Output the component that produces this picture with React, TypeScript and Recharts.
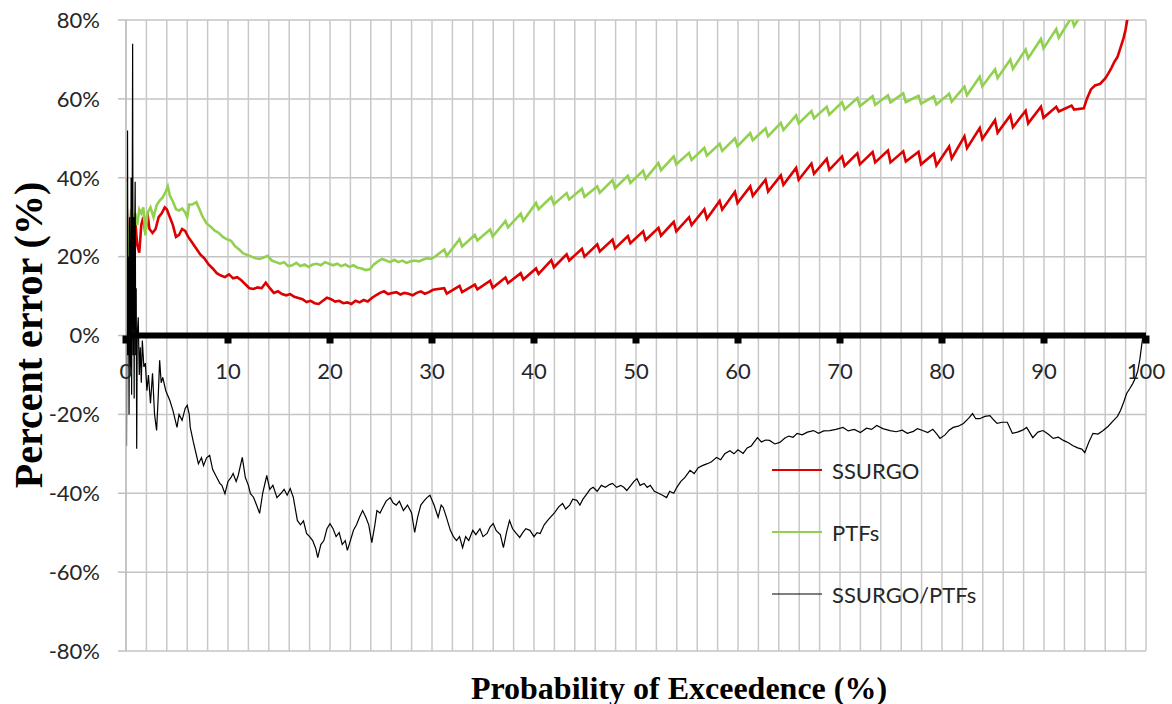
import React from 'react';
import { LineChart, Line, XAxis, YAxis, CartesianGrid, ReferenceLine, ReferenceDot } from 'recharts';

// x: probability of exceedence (%), y: percent error (%)
const ssurgo: [number, number][] = [
  [0,40],[0.1,30],[0.2,18],[0.3,24],[0.45,20],[0.6,28],[0.8,25],[0.9,29],[1.1,23],[1.3,21],[1.5,28],[1.7,30],[1.9,26],[2.1,31],[2.3,27],[2.6,26],[2.9,27],[3.2,30],[3.5,31],[3.8,32.5],[4.0,32],[4.3,30],[4.6,28],[4.9,25],[5.2,25.5],[5.5,27],[5.8,26.5],[6.1,25],[6.5,23.5],[6.9,22],[7.3,20.5],[7.7,19.5],[8.1,18],[8.5,17],[8.9,15.8],[9.3,15.2],[9.7,14.8],[10.1,15.5],[10.5,14.5],[10.9,14.8],[11.3,14],[11.7,13],[12.1,12],[12.5,11.8],[12.9,12.2],[13.3,12],[13.7,13.4],[14.1,12],[14.5,10.8],[14.9,11.2],[15.3,10.5],[15.7,10.2],[16.1,10.5],[16.5,9.8],[16.9,9.5],[17.3,9.2],[17.7,8.5],[18.1,8.8],[18.5,8.2],[18.9,8.0],[19.3,8.8],[19.7,9.6],[20.1,9.2],[20.5,8.6],[20.9,8.8],[21.3,8.2],[21.7,8.4],[22.1,8.0],[22.5,8.8],[22.9,8.4],[23.3,9.0],[23.7,8.6],[24.1,9.5],[24.5,10.2],[24.9,10.8],[25.3,11.2],[25.7,10.5],[26.1,10.8],[26.5,11.0],[26.9,10.4],[27.3,10.8],[27.7,10.6],[28.1,10.2],[28.5,10.8],[28.9,11.2],[29.3,10.6],[29.7,11.0],[30.1,11.6],
  [31.2,12.0],[31.45,10.6],[32.7,12.6],[32.95,11.0],[34.2,12.9],[34.45,11.7],[35.7,13.9],[35.95,12.1],[37.2,14.7],[37.45,13.3],[38.7,15.8],[38.95,14.2],[40.2,17.0],[40.45,15.6],[41.7,19.1],[41.95,17.3],[43.2,20.6],[43.45,19.0],[44.7,22.0],[44.95,20.0],[46.2,23.1],[46.45,21.3],[47.7,24.3],[47.95,22.1],[49.2,25.2],[49.45,23.4],[50.7,26.4],[50.95,24.2],[52.2,27.3],[52.45,25.3],[53.7,28.8],[53.95,26.4],[55.2,30.0],[55.45,28.0],[56.7,32.0],[56.95,29.6],[58.2,34.1],[58.45,31.9],[59.7,36.4],[59.95,33.6],[61.2,37.8],[61.45,35.4],[62.7,39.5],[62.95,36.5],[64.2,40.6],[64.45,38.2],[65.7,42.5],[65.95,39.5],[67.2,43.6],[67.45,41.0],[68.7,44.8],[68.95,42.0],[70.2,45.4],[70.45,43.0],[71.7,46.2],[71.95,43.4],[73.2,46.5],[73.45,43.9],[74.7,46.9],[74.95,43.9],[76.2,46.7],[76.45,44.1],[77.7,46.6],[77.95,43.4],[79.2,46.1],[79.45,43.1],[80.7,47.9],[80.95,44.9],[82.2,50.5],[82.45,47.5],[83.7,52.6],[83.95,49.8],[85.2,54.6],[85.45,51.4],[86.7,55.8],[86.95,52.8],[88.2,57.0],[88.45,53.8],[89.7,58.0],[89.95,55.2],[91.2,58.0],[91.45,56.8],[92.7,58.3],[92.95,57.3],[93.9,57.6],[94.2,60.0],[94.6,62.4],[95,63.4],[95.5,63.8],[96,65.2],[96.3,66.4],[96.6,67.8],[96.9,69.4],[97.2,70.6],[97.5,73.0],[97.8,75.4],[98,77.6],[98.2,80.6],[98.5,84]
];

const ptfs: [number, number][] = [
  [0,39],[0.1,20],[0.2,8],[0.3,25],[0.5,32],[0.7,27],[0.9,31],[1.1,28],[1.3,32],[1.5,31],[1.7,32.5],[1.9,25.4],[2.1,31],[2.4,32.5],[2.7,30],[3.0,33],[3.3,34.2],[3.6,35],[3.9,36.5],[4.1,37.8],[4.3,35.5],[4.6,34],[4.9,32],[5.2,31.7],[5.5,32.2],[5.8,31.2],[6.0,30.0],[6.2,33.2],[6.5,33.2],[6.9,33.8],[7.2,32.0],[7.5,30.2],[7.9,28.4],[8.3,27.6],[8.7,26.6],[9.1,26.0],[9.5,25.0],[9.9,24.4],[10.3,24.0],[10.7,22.6],[11.1,21.8],[11.5,20.8],[11.9,20.4],[12.3,20.0],[12.7,19.6],[13.1,19.4],[13.5,19.8],[13.9,20.2],[14.3,19.0],[14.7,18.6],[15.1,18.2],[15.5,18.6],[15.9,17.6],[16.3,17.8],[16.7,18.4],[17.1,17.6],[17.5,18.0],[17.9,17.4],[18.3,18.0],[18.7,18.2],[19.1,17.8],[19.5,18.6],[19.9,18.2],[20.3,17.8],[20.7,18.2],[21.1,17.6],[21.5,18.0],[21.9,17.4],[22.3,17.8],[22.7,17.2],[23.1,17.0],[23.5,16.6],[23.9,16.8],[24.3,18.0],[24.7,18.8],[25.1,19.4],[25.5,19.0],[25.9,18.6],[26.3,19.2],[26.7,18.6],[27.1,19.0],[27.5,18.4],[27.9,18.8],[28.3,19.0],[28.7,18.8],[29.1,19.2],[29.5,19.6],[29.9,19.4],[30.3,20.0],
  [31.2,21.8],[31.45,20.2],[32.7,24.4],[32.95,22.6],[34.2,25.5],[34.45,24.1],[35.7,26.9],[35.95,25.1],[37.2,29.0],[37.45,27.4],[38.7,30.9],[38.95,29.1],[40.2,33.6],[40.45,32.0],[41.7,35.1],[41.95,33.3],[43.2,36.1],[43.45,34.5],[44.7,37.2],[44.95,35.2],[46.2,37.8],[46.45,36.2],[47.7,39.4],[47.95,37.4],[49.2,40.5],[49.45,38.7],[50.7,41.8],[50.95,39.8],[52.2,43.7],[52.45,41.9],[53.7,45.4],[53.95,43.4],[55.2,46.3],[55.45,44.5],[56.7,47.6],[56.95,45.6],[58.2,48.6],[58.45,46.8],[59.7,50.0],[59.95,48.0],[61.2,51.3],[61.45,49.5],[62.7,52.5],[62.95,50.5],[64.2,53.9],[64.45,52.1],[65.7,55.8],[65.95,53.8],[67.2,56.9],[67.45,55.1],[68.7,58.0],[68.95,56.0],[70.2,59.1],[70.45,57.3],[71.7,60.2],[71.95,58.2],[73.2,60.7],[73.45,58.5],[74.7,60.9],[74.95,59.1],[76.2,61.4],[76.45,59.2],[77.7,60.8],[77.95,58.8],[79.2,60.6],[79.45,58.6],[80.7,61.3],[80.95,59.3],[82.2,63.1],[82.45,60.9],[83.7,65.6],[83.95,63.2],[85.2,67.5],[85.45,65.3],[86.7,70.0],[86.95,67.6],[88.2,72.5],[88.45,70.3],[89.7,75.2],[89.95,72.8],[91.2,77.7],[91.45,75.5],[92.7,80.7],[92.95,78.5],[94.2,83.5],[95,85]
];

const ratio: [number, number][] = [
  [0,0],[0.05,-28],[0.1,10],[0.15,52],[0.2,-5],[0.25,20],[0.3,-20],[0.35,30],[0.4,5],[0.45,-10],[0.5,40],[0.55,-15],[0.6,20],[0.65,74],[0.7,-5],[0.75,30],[0.8,-16],[0.85,25],[0.9,39],[0.95,-5],[1.0,12],[1.05,-28.7],[1.1,0],[1.2,4.6],[1.3,-10],[1.4,-3],[1.5,-12],[1.6,-1.3],[1.75,-8],[1.9,-7],[2.05,-14],[2.2,-10],[2.4,-17.2],[2.6,-9.6],[2.8,-20],[3.0,-24.1],[3.15,-16],[3.3,-6.3],[3.45,-12],[3.6,-10.6],[3.9,-14],[4.3,-16.5],[4.6,-19],[5.0,-23.3],[5.2,-20],[5.5,-21.5],[5.8,-18.5],[6.0,-17.7],[6.2,-20],[6.3,-23.3],[6.6,-27],[7.1,-32.5],[7.4,-31],[7.6,-33],[7.9,-31],[8.2,-30.4],[8.5,-34],[8.9,-36],[9.2,-37.5],[9.4,-38],[9.7,-40.1],[10.0,-37],[10.3,-36],[10.5,-35],[10.8,-37],[11.0,-35.5],[11.4,-30.9],[11.7,-36],[12.0,-38],[12.2,-40.1],[12.5,-41],[12.8,-43],[13.1,-45.1],[13.4,-40],[13.8,-35.5],[14.1,-39],[14.4,-38],[14.8,-41.1],[15.2,-40],[15.5,-39],[15.8,-40.5],[16.1,-38.8],[16.4,-41],[16.8,-46.9],[17.1,-48],[17.4,-47],[17.7,-50.2],[18.0,-51],[18.3,-52],[18.6,-54],[18.8,-56.3],[19.1,-53],[19.4,-52],[19.7,-49],[20.0,-47.7],[20.3,-49],[20.6,-51],[20.9,-50],[21.2,-53],[21.5,-52],[21.7,-54.5],[22.0,-52],[22.3,-49.4],[22.6,-48],[22.9,-46],[23.2,-44.4],[23.5,-46],[23.8,-48],[24.1,-52.5],[24.4,-48],[24.6,-44.4],[24.9,-45],[25.2,-43.5],[25.5,-42],[25.9,-41.1],[26.2,-42.5],[26.5,-43],[26.8,-42],[27.2,-44.4],[27.6,-43],[28.0,-45],[28.3,-49.9],[28.6,-46],[28.9,-43],[29.2,-42],[29.5,-41.1],[29.8,-40.5],[30.2,-43],[30.6,-46.1],[30.9,-43],[31.1,-43.6],[31.4,-46],[31.8,-49.4],[32.1,-51],[32.4,-52],[32.7,-51],[33.0,-53.8],[33.3,-51],[33.6,-52],[34.0,-49.4],[34.3,-50.5],[34.7,-49],[35.0,-51],[35.4,-50.2],[35.7,-48.5],[36.0,-47.7],[36.3,-49.5],[36.7,-50.5],[37.0,-53.8],[37.3,-50],[37.6,-46.9],[37.9,-49],[38.2,-50],[38.6,-51.2],[38.9,-50],[39.2,-49],[39.6,-49.4],[40.0,-51],[40.3,-50],[40.6,-50.2],[41.0,-48],[41.3,-47],[41.6,-46.1],[42.0,-45],[42.4,-43.5],[42.8,-42.6],[43.1,-44],[43.5,-43],[43.8,-41.5],[44.2,-41.8],[44.5,-43],[44.8,-41.5],[45.2,-40.1],[45.5,-39],[45.8,-38.5],[46.2,-39.5],[46.6,-38],[47.0,-38.5],[47.4,-37.8],[47.7,-37.5],[48.1,-38.5],[48.5,-38],[48.8,-38.5],[49.1,-39.3],[49.5,-38],[49.8,-37],[50.1,-36.3],[50.4,-38],[50.8,-37.5],[51.1,-38.5],[51.4,-38],[51.8,-39.5],[52.2,-40],[52.6,-40.5],[53.0,-41.1],[53.3,-39.5],[53.7,-40],[54.0,-38.5],[54.4,-37],[54.8,-36],[55.3,-34.2],[55.7,-35],[56.1,-33.5],[56.5,-33],[57.0,-32.5],[57.4,-32],[57.9,-30.9],[58.3,-31.5],[58.7,-30],[59.2,-29.2],[59.6,-30],[60.0,-29],[60.5,-29.9],[60.9,-28.5],[61.3,-28],[61.9,-25.9],[62.3,-27],[62.7,-26.5],[63.1,-26.6],[63.6,-27.5],[64.1,-27.1],[64.6,-26],[65.0,-25.5],[65.4,-25.8],[65.8,-24.8],[66.3,-25.2],[66.8,-24.5],[67.4,-24.1],[67.9,-24.8],[68.4,-24.2],[69.0,-24.1],[69.6,-23.8],[70.3,-23.3],[70.8,-24.2],[71.4,-23.8],[72.0,-24.6],[72.6,-23.5],[73.1,-23.8],[73.6,-22.8],[74.2,-23.6],[74.9,-24.1],[75.5,-24.4],[76.1,-24.0],[76.6,-24.8],[77.2,-24.3],[77.6,-23.6],[78.1,-24.1],[78.6,-24.6],[79.1,-23.8],[79.5,-25.0],[79.8,-26.1],[80.3,-25.2],[80.7,-24.0],[81.1,-23.3],[81.6,-23.0],[82.1,-22.3],[82.6,-21.0],[83.0,-19.8],[83.3,-21.1],[83.7,-21.1],[84.2,-20.5],[84.7,-20.3],[85.1,-21.5],[85.4,-22.3],[85.9,-22.0],[86.4,-22.0],[86.9,-24.8],[87.4,-24.5],[87.9,-24.0],[88.3,-23.3],[88.9,-25.9],[89.4,-24.5],[89.9,-24.1],[90.4,-25.0],[90.9,-26.1],[91.4,-25.8],[91.9,-26.6],[92.4,-27.2],[92.8,-27.9],[93.3,-28.5],[93.7,-28.8],[94.0,-29.7],[94.4,-27.0],[94.8,-24.8],[95.3,-25.0],[95.8,-24.1],[96.3,-23.0],[96.8,-21.6],[97.2,-20.5],[97.5,-19.0],[97.8,-17.0],[98.1,-14.7],[98.4,-13.5],[98.7,-12.2],[99.0,-10.5],[99.2,-8.9],[99.4,-6.0],[99.6,-2.0],[99.7,0.0]
];

const gridTicks = [0,2,4,6,8,10,12,14,16,18,20,22,24,26,28,30,32,34,36,38,40,42,44,46,48,50,52,54,56,58,60,62,64,66,68,70,72,74,76,78,80,82,84,86,88,90,92,94,96,98,100];
const labelTicks = [0,10,20,30,40,50,60,70,80,90,100];
const yTicks = [-80,-60,-40,-20,0,20,40,60,80];

const seriesList = [
  { name: 'SSURGO', points: ssurgo, color: '#DD0000', width: 2.6 },
  { name: 'PTFs', points: ptfs, color: '#92D050', width: 2.6 },
  { name: 'SSURGO/PTFs', points: ratio, color: '#000000', width: 1.2 },
];

const FONT = 'Lato, "Open Sans", sans-serif';
const SERIF = '"Liberation Serif", "Times New Roman", serif';

const toData = (pts: [number, number][]) => pts.map(([p, v]) => ({ p, v }));

export default function App() {
  return (
    <div style={{ position: 'absolute', left: 0, top: 0, width: 1172, height: 704, background: '#fff' }}>
      <LineChart width={1172} height={704} margin={{ top: 20, right: 26, bottom: 53, left: 0 }}>
        <CartesianGrid stroke="#c4c4c4" strokeWidth={1.5} vertical={false} />
        <XAxis dataKey="p" type="number" domain={[0, 100]} ticks={gridTicks} allowDataOverflow hide />
        <YAxis
          type="number"
          domain={[-80, 80]}
          ticks={yTicks}
          allowDataOverflow
          width={126}
          tickSize={8}
          tickMargin={18}
          tickLine={{ stroke: '#bfbfbf', strokeWidth: 1.5 }}
          axisLine={{ stroke: '#bfbfbf', strokeWidth: 1.5 }}
          tickFormatter={(v: number) => `${v}%`}
          tick={{ fontFamily: FONT, fontSize: 22, fill: '#262626' }}
        />
        {gridTicks.map((t) => (
          <ReferenceLine key={`g${t}`} x={t} stroke="#c8c8c8" strokeWidth={1.5} />
        ))}
        <ReferenceLine y={0} stroke="#000" strokeWidth={6} />
        {labelTicks.map((t) => (
          <ReferenceDot
            key={t}
            x={t}
            y={0}
            r={0}
            ifOverflow="visible"
            shape={(p: any) => (
              <g>
                <rect x={p.cx - 3.5} y={p.cy} width={7} height={8} fill="#000" />
                <text x={p.cx} y={p.cy + 43} textAnchor="middle" fontFamily={FONT} fontSize={22} fill="#262626">
                  {t}
                </text>
              </g>
            )}
          />
        ))}
        {seriesList.map((s) => (
          <Line
            key={s.name}
            data={toData(s.points)}
            dataKey="v"
            name={s.name}
            type="linear"
            stroke={s.color}
            strokeWidth={s.width}
            dot={false}
            activeDot={false}
            isAnimationActive={false}
          />
        ))}
      </LineChart>
      <div
        style={{
          position: 'absolute',
          left: 679,
          top: 688,
          transform: 'translate(-50%, -50%)',
          whiteSpace: 'nowrap',
          fontFamily: SERIF,
          fontWeight: 'bold',
          fontSize: 32,
          color: '#000',
          lineHeight: 1,
        }}
      >
        Probability of Exceedence (%)
      </div>
      <div
        style={{
          position: 'absolute',
          left: 29,
          top: 335,
          transform: 'translate(-50%, -50%) rotate(-90deg)',
          whiteSpace: 'nowrap',
          fontFamily: SERIF,
          fontWeight: 'bold',
          fontSize: 40,
          color: '#000',
          lineHeight: 1,
        }}
      >
        Percent error (%)
      </div>
      <div style={{ position: 'absolute', left: 772, top: 455, fontFamily: FONT, fontSize: 22, color: '#262626' }}>
        {seriesList.map((s) => (
          <div key={s.name} style={{ display: 'flex', alignItems: 'center', height: 30, marginBottom: 32 }}>
            <svg width={50} height={10} style={{ marginRight: 10 }}>
              <line x1={0} y1={5} x2={50} y2={5} stroke={s.color} strokeWidth={s.width > 2 ? 2 : 1.2} />
            </svg>
            <span>{s.name}</span>
          </div>
        ))}
      </div>
    </div>
  );
}
